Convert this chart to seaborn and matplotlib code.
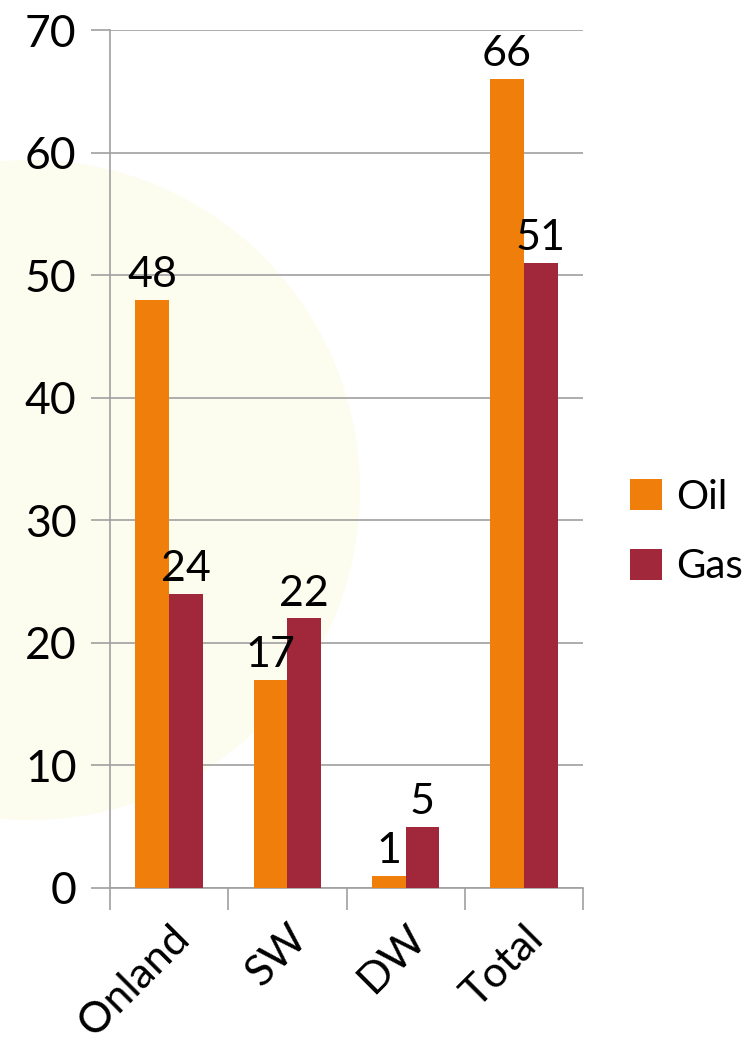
import matplotlib
matplotlib.use("Agg")
import matplotlib.pyplot as plt
import seaborn as sns
import pandas as pd
from matplotlib.patches import Circle, Patch

categories = ["Onland", "SW", "DW", "Total"]
oil = [48, 17, 1, 66]
gas = [24, 22, 5, 51]
series = ["Oil", "Gas"]
colors = ["#EF7F0A", "#A0283A"]

df = pd.DataFrame({
    "cat": categories * 2,
    "val": oil + gas,
    "series": ["Oil"] * len(categories) + ["Gas"] * len(categories),
})

sns.set_theme(style="white")
plt.rcParams["font.family"] = ["Lato", "DejaVu Sans"]
plt.rcParams["text.color"] = "black"

fig = plt.figure(figsize=(7.5, 10.46), dpi=100)
fig.patch.set_facecolor("white")
# faint watermark circle
wm = Circle((0.30, 10.46 - 4.90), 3.3, transform=fig.dpi_scale_trans,
            facecolor="#FCFCEF", edgecolor="none", zorder=-5)
fig.patches.append(wm)

ax = fig.add_axes([110 / 750, 1 - 888 / 1046, 473 / 750, 858 / 1046])
ax.set_zorder(1)
ax.set_facecolor("none")
sns.barplot(data=df, x="cat", y="val", hue="series", hue_order=series,
            palette=colors, width=0.57, gap=0, ax=ax, saturation=1, legend=False,
            edgecolor="none", zorder=3)

for cont in ax.containers:
    ax.bar_label(cont, fontsize=31, padding=4, color="black")

ax.set_ylim(0, 70)
ax.set_xlim(-0.5, 3.5)
ax.set_yticks(range(0, 71, 10))
ax.yaxis.grid(True, color="#A0A0A0", linewidth=1.2, zorder=0)
ax.set_axisbelow(True)
ax.set_xlabel("")
ax.set_ylabel("")
for s in ["top", "right"]:
    ax.spines[s].set_visible(False)
for s in ["left", "bottom"]:
    ax.spines[s].set_color("#A0A0A0")
    ax.spines[s].set_linewidth(1.2)

ax.tick_params(axis="y", which="major", length=14, width=1.2, color="#A0A0A0",
               labelsize=32, pad=10, left=True, labelcolor="black")
ax.set_xticks([0, 1, 2, 3])
ax.set_xticklabels(categories, rotation=45, ha="right", va="top",
                   rotation_mode="anchor", fontsize=31, color="black")
ax.tick_params(axis="x", which="major", length=0, pad=22)
ax.set_xticks([-0.5, 0.5, 1.5, 2.5, 3.5], minor=True)
ax.tick_params(axis="x", which="minor", length=16, width=1.2, color="#A0A0A0", bottom=True)

handles = [Patch(facecolor=c, edgecolor="none") for c in colors]
fig.legend(handles, series, loc="center left", bbox_to_anchor=(630 / 750, 1 - 532 / 1046),
           frameon=False, fontsize=29, handlelength=0.8, handleheight=0.8,
           handletextpad=0.35, labelspacing=0.8, borderpad=0, borderaxespad=0,
           labelcolor="black")

fig.savefig("out.png", dpi=100, facecolor="white")
